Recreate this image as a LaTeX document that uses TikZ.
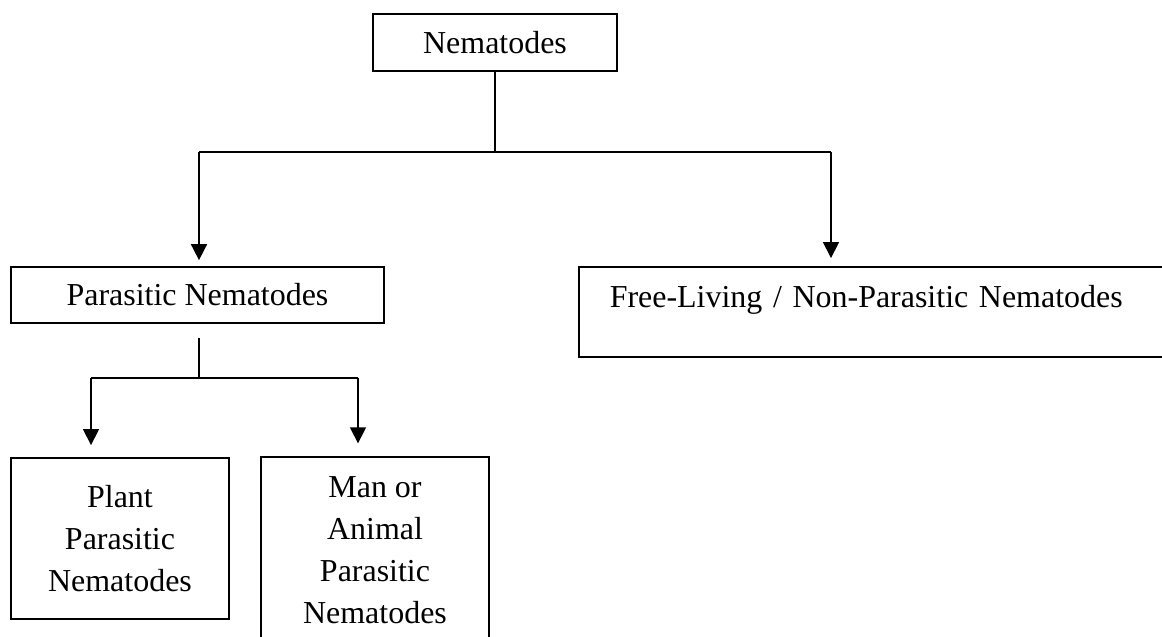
\documentclass[tikz,border=0pt]{standalone}
\usepackage{fontspec}
\setmainfont{Liberation Serif}
\usetikzlibrary{arrows.meta,calc}

\begin{document}
\begin{tikzpicture}[x=0.0132cm,y=0.0132cm,
  box/.style={draw,line width=0.6pt,align=center,font=\fontsize{12}{15.8}\selectfont},
  link/.style={line width=0.6pt},
  down/.style={line width=0.6pt,-{Triangle[length=6pt,width=6pt]}}]
\useasboundingbox (0,0) rectangle (1162,-637);

\node[box,minimum width=3.22cm,minimum height=0.752cm] (nem) at (495,-42.5) {Nematodes};
\node[box,minimum width=4.924cm,minimum height=0.739cm] (par) at (197.5,-295) {Parasitic Nematodes};
\node[box,anchor=north west,align=left,text width=7.39cm,inner xsep=0.409cm,inner ysep=0.246cm,
  text height=0.296cm,text depth=0.401cm] (free) at (578,-266) {Free-Living / Non-Parasitic Nematodes};
\node[box,minimum width=2.878cm,minimum height=2.125cm] (plant) at (120,-538.5) {Plant\\Parasitic\\Nematodes};
\node[box,minimum width=3.01cm,minimum height=2.468cm] (man) at (375,-550.5) {Man or\\Animal\\Parasitic\\Nematodes};

\coordinate (j0) at (495,-152);
\coordinate (jl) at (199,-152);
\coordinate (jr) at (831,-152);
\coordinate (k0) at (199,-378);
\coordinate (kl) at (91,-378);
\coordinate (kr) at (358,-378);

\draw[link] (nem.south) -- (j0);
\draw[link] (jl) -- (jr);
\draw[down,shorten >=0.08cm] (jl) -- (jl |- par.north);
\draw[down,shorten >=0.105cm] (jr) -- (jr |- free.north);

\draw[link,shorten <=0.185cm] (k0 |- par.south) -- (k0);
\draw[link] (kl) -- (kr);
\draw[down,shorten >=0.16cm] (kl) -- (kl |- plant.north);
\draw[down,shorten >=0.17cm] (kr) -- (kr |- man.north);

\end{tikzpicture}
\end{document}
